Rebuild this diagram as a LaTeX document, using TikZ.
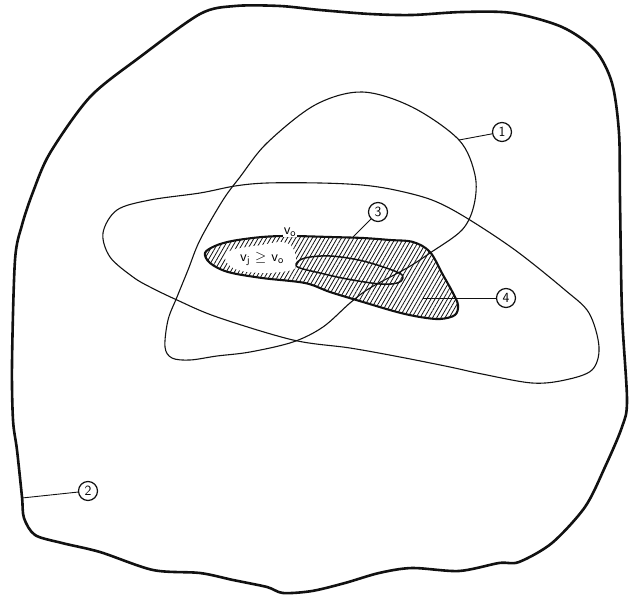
\documentclass[tikz,border=0pt]{standalone}
\usepackage{amsmath}
\usepackage{xcolor}
\usepackage{tikz}
\usetikzlibrary{patterns.meta,positioning}
\definecolor{paperink}{HTML}{111111}
\tikzset{
  boundary/.style={paperink,line width=2.6pt,line join=round},
  contour/.style={paperink,line width=1.1pt,line join=round},
  setline/.style={paperink,line width=2.1pt,line join=round},
  leader/.style={paperink,line width=0.9pt},
  tag/.style={circle,draw=paperink,line width=1.2pt,minimum size=19pt,inner sep=0pt,
    font=\sffamily\fontsize{14}{14}\selectfont},
  vlabel/.style={font=\sffamily\fontsize{15}{15}\selectfont,inner sep=1pt}
}

\begin{document}
\begin{tikzpicture}[x=1pt,y=-1pt]
  \useasboundingbox (0,0) rectangle (632,599);
  \fill[pattern={Lines[angle=60,distance=3.6pt,line width=0.8pt]},pattern color=paperink]
    plot[smooth cycle,tension=0.55] coordinates {(205,253) (215,246) (232,241) (262,237)
      (290,236) (330,237) (363,238) (390,240) (413,242) (430,252) (443,275) (453,293)
      (458,305) (455,315) (440,319) (420,317) (397,312) (363,302) (330,292) (305,283)
      (262,278) (228,272) (210,263)};
  \fill[white] plot[smooth cycle,tension=0.6] coordinates {(225,258) (232,250) (262,245)
    (282,242) (293,248) (296,262) (292,270) (262,273) (235,269)};
  \draw[boundary] plot[smooth cycle,tension=0.5] coordinates {(50,153) (90,97) (140,57)
    (200,14) (235,6) (280,6) (320,10) (370,14) (412,15) (462,12) (512,13) (562,27)
    (595,50) (612,83) (619,133) (620,200) (622,313) (627,400) (622,427) (605,467)
    (585,507) (552,543) (519,562) (499,563) (459,571) (412,568) (379,573) (345,583)
    (312,591) (283,593) (267,587) (233,580) (200,573) (153,570) (100,552) (62,543)
    (35,535) (24,518) (22,497) (17,450) (13,420) (12,363) (15,260) (22,225) (33,192)};
  \draw[contour] plot[smooth cycle,tension=0.55] coordinates {(315,105) (362,92)
    (412,107) (459,140) (475,175) (474,205) (462,230) (430,253) (407,268) (370,288)
    (350,303) (323,327) (293,342) (250,352) (217,356) (190,360) (172,358) (165,347)
    (168,320) (177,297) (188,270) (200,240) (223,200) (240,177) (267,143)};
  \draw[contour] plot[smooth cycle,tension=0.55] coordinates {(103,233) (117,210)
    (150,200) (200,193) (235,186) (267,183) (320,183) (362,185) (395,190) (432,200)
    (465,217) (515,250) (565,290) (589,313) (599,347) (592,370) (565,380) (532,383)
    (482,374) (450,367) (400,357) (350,348) (293,340) (217,317) (177,300) (150,287)
    (133,277) (110,257)};
  \draw[setline] plot[smooth cycle,tension=0.55] coordinates {(205,253) (215,246)
    (232,241) (262,237) (290,236) (330,237) (363,238) (390,240) (413,242) (430,252)
    (443,275) (453,293) (458,305) (455,315) (440,319) (420,317) (397,312) (363,302)
    (330,292) (305,283) (262,278) (228,272) (210,263)};
  \draw[setline,line width=1.5pt] plot[smooth cycle,tension=0.6] coordinates {(296,264)
    (305,258) (330,256) (363,261) (397,272) (403,278) (397,283) (380,284) (347,279)
    (320,273) (300,268)};

  \node[vlabel,fill=white] (vzero) at (290,232) {v\textsubscript{o}};
  \node[vlabel] (vineq) at (262,259) {v\textsubscript{j}\,\,$\geq$\,\,v\textsubscript{o}};

  \node[tag] (one) at (502,132) {1};
  \node[tag] (two) at (88,491) {2};
  \node[tag] (three) at (378,212) {3};
  \node[tag] (four) at (506,298) {4};
  \coordinate (oneend) at (459,140);
  \coordinate (twoend) at (22,498);
  \coordinate (threeend) at (353,237);
  \coordinate (fourend) at (423,298);
  \draw[leader] (oneend) -- (one);
  \draw[leader] (twoend) -- (two);
  \draw[leader] (threeend) -- (three);
  \draw[leader] (fourend) -- (four);
\end{tikzpicture}
\end{document}
